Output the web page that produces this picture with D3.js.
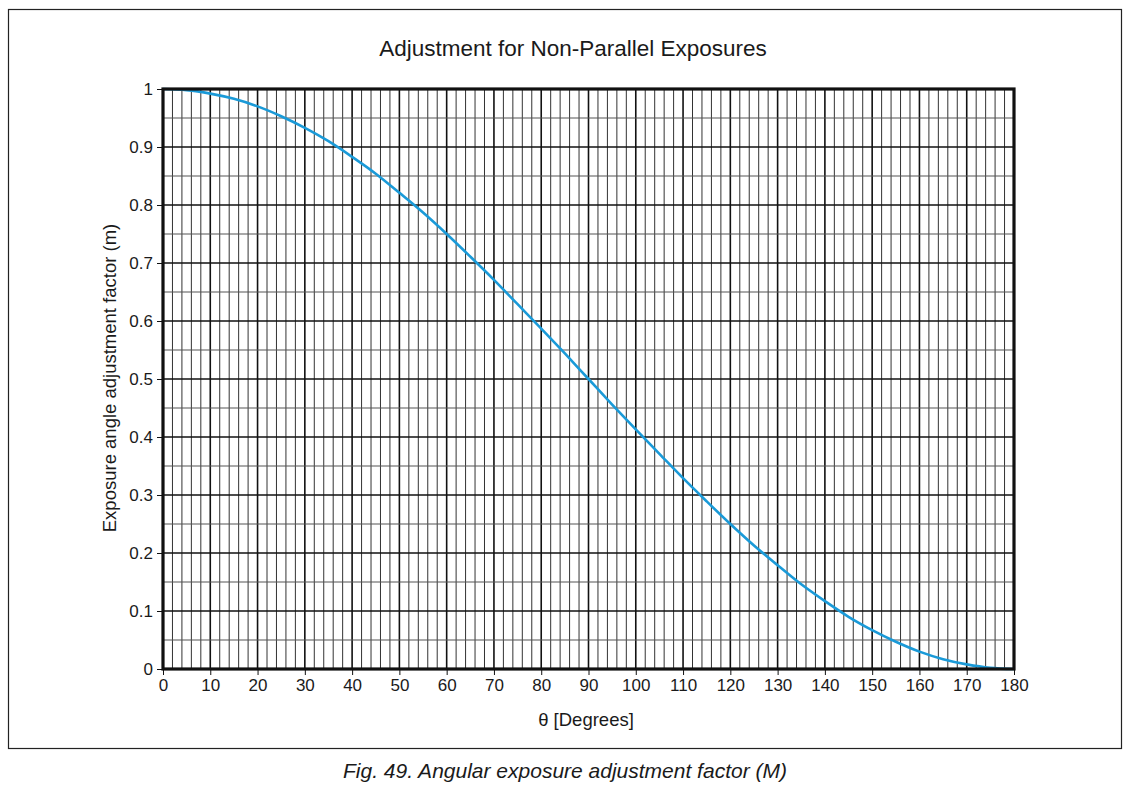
<!DOCTYPE html>
<html>
<head>
<meta charset="utf-8">
<script src="https://cdn.jsdelivr.net/npm/d3@7"></script>
<style>
  body { margin: 0; background: #fff; }
  text { font-family: "Liberation Sans", Arial, sans-serif; fill: #1a1a1a; }
</style>
</head>
<body>
<div id="chart"></div>
<script>
// values, every 5 degrees
var angles = [0, 5, 10, 15, 20, 25, 30, 35, 40, 45, 50, 55, 60, 65, 70, 75, 80, 85, 90,
  95, 100, 105, 110, 115, 120, 125, 130, 135, 140, 145, 150, 155, 160, 165, 170, 175, 180];
var factors = [1.000, 0.998, 0.992, 0.983, 0.970, 0.953, 0.933, 0.910, 0.883, 0.854,
  0.821, 0.787, 0.750, 0.711, 0.671, 0.629, 0.587, 0.544, 0.500, 0.456, 0.413, 0.371,
  0.329, 0.289, 0.250, 0.213, 0.179, 0.146, 0.117, 0.090, 0.067, 0.047, 0.030, 0.017,
  0.008, 0.002, 0.000];
var xTicks = [0, 10, 20, 30, 40, 50, 60, 70, 80, 90, 100, 110, 120, 130, 140, 150, 160, 170, 180];
var yTicks = [0, 0.1, 0.2, 0.3, 0.4, 0.5, 0.6, 0.7, 0.8, 0.9, 1];

(function() {
"use strict";

var W = 1131, H = 789;
var pl = 163, pr = 1014, pt = 89, pb = 669;

var svg = d3.select('#chart').append('svg')
  .attr('width', W).attr('height', H);

// outer frame
svg.append('rect')
  .attr('x', 8.5).attr('y', 9.5).attr('width', 1113).attr('height', 739)
  .attr('fill', 'none').attr('stroke', '#222').attr('stroke-width', 1.2);

svg.append('text')
  .attr('x', 573).attr('y', 56)
  .attr('text-anchor', 'middle')
  .style('font-size', '22.5px')
  .text('Adjustment for Non-Parallel Exposures');

var x = d3.scaleLinear().domain([0, 180]).range([pl, pr]);
var y = d3.scaleLinear().domain([0, 1]).range([pb, pt]);

var grid = svg.append('g');

// vertical grid: every 2 degrees, darker every 10
grid.selectAll('line.v')
  .data(d3.range(2, 180, 2))
  .enter().append('line')
  .attr('class', 'v')
  .attr('x1', function(d) { return x(d); })
  .attr('x2', function(d) { return x(d); })
  .attr('y1', pt).attr('y2', pb)
  .attr('stroke', function(d) { return d % 10 == 0 ? '#111' : '#333'; })
  .attr('stroke-width', function(d) { return d % 10 == 0 ? 1.6 : 1; });

// horizontal grid: every 0.05, darker every 0.1
grid.selectAll('line.h')
  .data(d3.range(1, 20))
  .enter().append('line')
  .attr('class', 'h')
  .attr('y1', function(d) { return y(d / 20); })
  .attr('y2', function(d) { return y(d / 20); })
  .attr('x1', pl).attr('x2', pr)
  .attr('stroke', function(d) { return d % 2 == 0 ? '#111' : '#555'; })
  .attr('stroke-width', function(d) { return d % 2 == 0 ? 1.6 : 1.2; });

// axes
var xAxis = d3.axisBottom(x).tickValues(xTicks).tickSize(6).tickPadding(4)
  .tickFormat(d3.format('d'));
var gx = svg.append('g')
  .attr('transform', 'translate(0,' + pb + ')')
  .call(xAxis);
gx.select('.domain').remove();
gx.selectAll('text').style('font-size', '17px').attr('fill', '#1a1a1a');
gx.selectAll('line').attr('stroke', '#111');

var yAxis = d3.axisLeft(y).tickValues(yTicks).tickSize(6).tickPadding(4)
  .tickFormat(function(d) { return d == 0 || d == 1 ? d : d3.format('.1f')(d); });
var gy = svg.append('g')
  .attr('transform', 'translate(' + pl + ',0)')
  .call(yAxis);
gy.select('.domain').remove();
gy.selectAll('text').style('font-size', '17px').attr('fill', '#1a1a1a');
gy.selectAll('line').attr('stroke', '#111');

// curve
var pts = angles.map(function(a, i) { return [a, factors[i]]; });
var line = d3.line()
  .x(function(d) { return x(d[0]); })
  .y(function(d) { return y(d[1]); })
  .curve(d3.curveMonotoneX);

svg.append('path')
  .datum(pts)
  .attr('d', line)
  .attr('fill', 'none')
  .attr('stroke', '#1a9ad8')
  .attr('stroke-width', 2.6);

// plot border
svg.append('rect')
  .attr('x', pl).attr('y', pt)
  .attr('width', pr - pl).attr('height', pb - pt)
  .attr('fill', 'none').attr('stroke', '#111').attr('stroke-width', 3.2);

// axis labels
svg.append('text')
  .attr('x', 586).attr('y', 726)
  .attr('text-anchor', 'middle')
  .style('font-size', '18.5px')
  .text('θ [Degrees]');

svg.append('text')
  .attr('transform', 'translate(116,378) rotate(-90)')
  .attr('text-anchor', 'middle')
  .style('font-size', '18.5px')
  .text('Exposure angle adjustment factor (m)');

// caption
svg.append('text')
  .attr('x', 565).attr('y', 778)
  .attr('text-anchor', 'middle')
  .style('font-size', '21px')
  .style('font-style', 'italic')
  .text('Fig. 49. Angular exposure adjustment factor (M)');
})();
</script>
</body>
</html>
